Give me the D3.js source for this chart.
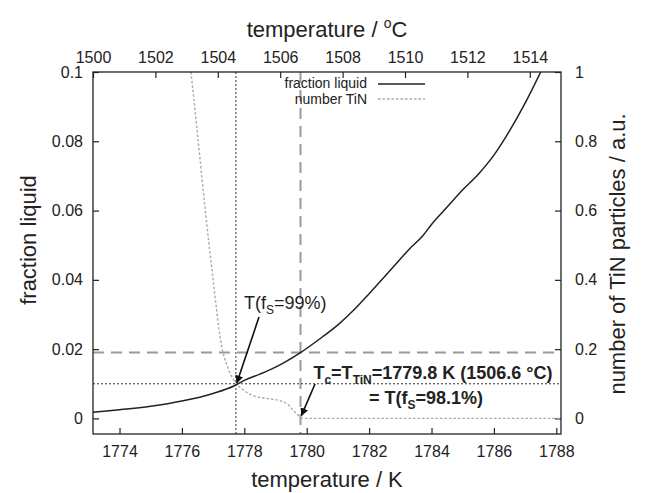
<!DOCTYPE html>
<html>
<head>
<meta charset="utf-8">
<script src="https://cdn.jsdelivr.net/npm/d3@7"></script>
<style>
  body { margin: 0; background: #fff; }
  svg text { font-family: "Liberation Sans", Arial, sans-serif; fill: #222; }
</style>
</head>
<body>
<script>
// fraction liquid vs temperature (K)
var flTemp = [1773.15, 1774, 1775, 1776, 1777, 1777.7, 1778, 1778.5, 1779, 1779.8, 1780.5, 1781, 1781.5, 1782, 1782.5, 1783, 1783.3, 1783.7, 1784, 1784.5, 1785, 1785.5, 1786, 1786.5, 1787, 1787.5];
var flValue = [0.0018, 0.0025, 0.0035, 0.005, 0.0072, 0.0095, 0.011, 0.0128, 0.0148, 0.019, 0.0235, 0.027, 0.0312, 0.036, 0.041, 0.046, 0.049, 0.0525, 0.056, 0.061, 0.066, 0.0705, 0.076, 0.083, 0.091, 0.1];

// number of TiN particles (right axis)
var tinTemp = [1776.29, 1776.5, 1776.75, 1777, 1777.25, 1777.5, 1777.75, 1778, 1778.3, 1778.7, 1779.1, 1779.4, 1779.6, 1779.8, 1779.9, 1788.15];
var tinValue = [1.0, 0.82, 0.6, 0.4, 0.22, 0.14, 0.1, 0.08, 0.065, 0.058, 0.052, 0.04, 0.02, 0.004, 0, 0];

var xTicks = [1774, 1776, 1778, 1780, 1782, 1784, 1786, 1788];
var x2Ticks = [1500, 1502, 1504, 1506, 1508, 1510, 1512, 1514];
var yTicks = [0, 0.02, 0.04, 0.06, 0.08, 0.1];
var y2Ticks = [0, 0.2, 0.4, 0.6, 0.8, 1];

// reference lines
var dottedK = 1777.73, dottedFL = 0.01;
var dashedK = 1779.8, dashedFL = 0.019;

var w = 649, h = 493;
var padL = 93, padR = 561, padT = 72, padB = 434;

var svg = d3.select("body").append("svg").attr("width", w).attr("height", h);

var x = d3.scaleLinear().domain([1773.15, 1788.15]).range([padL, padR]);
var x2 = d3.scaleLinear().domain([1500, 1515]).range([padL, padR]);
var y = d3.scaleLinear().domain([-0.0045, 0.1]).range([padB, padT]);
var y2 = d3.scaleLinear().domain([-0.045, 1]).range([padB, padT]);

svg.append("clipPath").attr("id", "clip")
  .append("rect").attr("x", padL).attr("y", padT).attr("width", padR - padL).attr("height", padB - padT);

var fmt = function(d){ return d === 0 ? "0" : String(+d.toFixed(2)); };

// axes, ticks pointing inward
var gx = svg.append("g").attr("transform", "translate(0," + padB + ")")
  .call(d3.axisBottom(x).tickValues(xTicks).tickSize(-6).tickSizeOuter(0).tickPadding(12).tickFormat(d3.format("d")));
var gx2 = svg.append("g").attr("transform", "translate(0," + padT + ")")
  .call(d3.axisTop(x2).tickValues(x2Ticks).tickSize(-6).tickSizeOuter(0).tickPadding(9).tickFormat(d3.format("d")));
var gy = svg.append("g").attr("transform", "translate(" + padL + ",0)")
  .call(d3.axisLeft(y).tickValues(yTicks).tickSize(-6).tickSizeOuter(0).tickPadding(10).tickFormat(fmt));
var gy2 = svg.append("g").attr("transform", "translate(" + padR + ",0)")
  .call(d3.axisRight(y2).tickValues(y2Ticks).tickSize(-6).tickSizeOuter(0).tickPadding(14).tickFormat(fmt));

[gx, gx2, gy, gy2].forEach(function(g){
  g.select(".domain").remove();
  g.selectAll(".tick line").attr("stroke", "#222").attr("stroke-width", 1.2);
  g.selectAll(".tick text").attr("font-size", 16).attr("font-family", "Liberation Sans, Arial, sans-serif").attr("fill", "#222");
});

// reference lines
var ref = svg.append("g").attr("clip-path", "url(#clip)");
ref.append("line").attr("x1", padL).attr("x2", padR).attr("y1", y(dashedFL)).attr("y2", y(dashedFL))
  .attr("stroke", "#9a9a9a").attr("stroke-width", 2).attr("stroke-dasharray", "11,7");
ref.append("line").attr("x1", x(dashedK)).attr("x2", x(dashedK)).attr("y1", padT).attr("y2", padB)
  .attr("stroke", "#9a9a9a").attr("stroke-width", 2).attr("stroke-dasharray", "11,7");
ref.append("line").attr("x1", padL).attr("x2", padR).attr("y1", y(dottedFL)).attr("y2", y(dottedFL))
  .attr("stroke", "#333").attr("stroke-width", 1).attr("stroke-dasharray", "2,2");
ref.append("line").attr("x1", x(dottedK)).attr("x2", x(dottedK)).attr("y1", padT).attr("y2", padB)
  .attr("stroke", "#333").attr("stroke-width", 1).attr("stroke-dasharray", "2,2");

// curves
var plot = svg.append("g").attr("clip-path", "url(#clip)");
var flLine = d3.line().x(function(d, i){ return x(flTemp[i]); }).y(function(d){ return y(d); }).curve(d3.curveMonotoneX);
var tinLine = d3.line().x(function(d, i){ return x(tinTemp[i]); }).y(function(d){ return y2(d); }).curve(d3.curveMonotoneX);

plot.append("path").attr("d", tinLine(tinValue)).attr("fill", "none")
  .attr("stroke", "#aaa").attr("stroke-width", 1.4).attr("stroke-dasharray", "2.5,2");
plot.append("path").attr("d", flLine(flValue)).attr("fill", "none")
  .attr("stroke", "#222").attr("stroke-width", 1.5);

// frame
svg.append("rect").attr("x", padL).attr("y", padT).attr("width", padR - padL).attr("height", padB - padT)
  .attr("fill", "none").attr("stroke", "#222").attr("stroke-width", 1.3);

// legend
var lg = svg.append("g");
lg.append("text").attr("x", 367).attr("y", 88).attr("text-anchor", "end").attr("font-size", 14).text("fraction liquid");
lg.append("line").attr("x1", 378).attr("x2", 425).attr("y1", 84).attr("y2", 84).attr("stroke", "#222").attr("stroke-width", 1.5);
lg.append("text").attr("x", 367).attr("y", 104).attr("text-anchor", "end").attr("font-size", 14).text("number TiN");
lg.append("line").attr("x1", 378).attr("x2", 425).attr("y1", 99).attr("y2", 99).attr("stroke", "#aaa").attr("stroke-width", 1.4).attr("stroke-dasharray", "2.5,2");

// axis titles
svg.append("text").attr("x", 327).attr("y", 487).attr("text-anchor", "middle").attr("font-size", 22).text("temperature / K");
var tt = svg.append("text").attr("x", 327).attr("y", 37).attr("text-anchor", "middle").attr("font-size", 22);
tt.append("tspan").text("temperature / ");
tt.append("tspan").attr("font-size", 14).attr("dy", -9).text("o");
tt.append("tspan").attr("dy", 9).text("C");
svg.append("text").attr("transform", "translate(36,240) rotate(-90)").attr("text-anchor", "middle").attr("font-size", 22).text("fraction liquid");
svg.append("text").attr("transform", "translate(625,254) rotate(-90)").attr("text-anchor", "middle").attr("font-size", 22).text("number of TiN particles / a.u.");

// annotations
var annFont = "Lato, 'Open Sans', sans-serif";
var a1 = svg.append("text").attr("x", 244).attr("y", 309).attr("font-size", 18).attr("font-family", annFont);
a1.append("tspan").text("T(f");
a1.append("tspan").attr("font-size", 12).attr("dy", 5).text("S");
a1.append("tspan").attr("dy", -5).text("=99%)");

var a2 = svg.append("text").attr("x", 433).attr("y", 379).attr("text-anchor", "middle").attr("font-size", 18).attr("font-weight", "bold").attr("font-family", annFont);
a2.append("tspan").text("T");
a2.append("tspan").attr("font-size", 12).attr("dy", 5).text("c");
a2.append("tspan").attr("dy", -5).text("=T");
a2.append("tspan").attr("font-size", 12).attr("dy", 5).text("TiN");
a2.append("tspan").attr("dy", -5).text("=1779.8 K (1506.6 °C)");

var a3 = svg.append("text").attr("x", 426).attr("y", 404).attr("text-anchor", "middle").attr("font-size", 18).attr("font-weight", "bold").attr("font-family", annFont);
a3.append("tspan").text("= T(f");
a3.append("tspan").attr("font-size", 12).attr("dy", 5).text("S");
a3.append("tspan").attr("dy", -5).text("=98.1%)");

// arrows
svg.append("defs").append("marker").attr("id", "arr").attr("viewBox", "0 0 10 10").attr("refX", 9).attr("refY", 5)
  .attr("markerWidth", 8).attr("markerHeight", 8).attr("orient", "auto-start-reverse").attr("markerUnits", "userSpaceOnUse")
  .append("path").attr("d", "M0,0 L10,5 L0,10 z").attr("fill", "#111");
svg.append("line").attr("x1", 259).attr("y1", 317).attr("x2", x(dottedK) + 1).attr("y2", y(dottedFL) - 1)
  .attr("stroke", "#111").attr("stroke-width", 1.6).attr("marker-end", "url(#arr)");
svg.append("line").attr("x1", 315).attr("y1", 384).attr("x2", x(dashedK) + 1).attr("y2", y2(0) - 3)
  .attr("stroke", "#111").attr("stroke-width", 1.6).attr("marker-end", "url(#arr)");
</script>
</body>
</html>
